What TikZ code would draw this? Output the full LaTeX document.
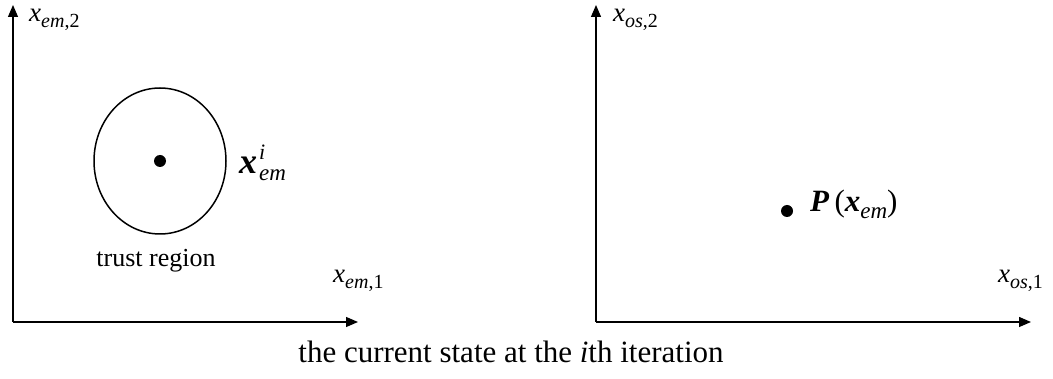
\documentclass[tikz,border=0pt]{standalone}
\usepackage{fontspec}
\setmainfont{Liberation Serif}
\usetikzlibrary{arrows.meta}
\newcommand{\vx}{\textbf{\textit{x}}}
\newcommand{\lsub}[1]{\raisebox{-6pt}{\fontsize{20}{22}\selectfont #1}}
\newcommand{\bsub}[1]{\raisebox{-7pt}{\fontsize{23}{25}\selectfont #1}}
\newcommand{\bsup}[1]{\raisebox{14pt}{\fontsize{22}{24}\selectfont #1}}
\begin{document}
\begin{tikzpicture}[x=1pt,y=-1pt,
  axis/.style={line width=1.3pt,-{Triangle[length=12pt,width=10pt]}},
  lbl/.style={font=\fontsize{27}{30}\selectfont,inner sep=0pt,anchor=base west},
  dotstyle/.style={circle,fill=black,inner sep=0pt,minimum size=12pt}]
\useasboundingbox (0,0) rectangle (1053,379);
% left axes
\coordinate (lo) at (13,322);
\coordinate (ly) at (13,5);
\coordinate (lx) at (358,322);
\draw[axis] (lo) -- (ly);
\draw[axis] (lo) -- (lx);
% right axes
\coordinate (ro) at (596,322);
\coordinate (ry) at (596,5);
\coordinate (rx) at (1031,322);
\draw[axis] (ro) -- (ry);
\draw[axis] (ro) -- (rx);
% trust region
\draw[line width=1.5pt] (160,161) ellipse [x radius=66, y radius=73];
\node[dotstyle] (c) at (160,161) {};
\node[lbl,font=\fontsize{36}{40}\selectfont] (xi) at (239,174) {\vx\hspace{2pt}\rlap{\bsup{\textit{i}}}\bsub{\textit{em}}};
\node[lbl,font=\fontsize{26}{30}\selectfont,anchor=base] (tr) at (156,267) {trust region};
\node[lbl] (ly2) at (29,22) {\textit{x}\lsub{\textit{em},2}};
\node[lbl] (lx1) at (333,283) {\textit{x}\lsub{\textit{em},1}};
\node[lbl] (ry2) at (613,22) {\textit{x}\lsub{\textit{os},2}};
\node[lbl] (rx1) at (998,283) {\textit{x}\lsub{\textit{os},1}};
\node[dotstyle] (p) at (787,211) {};
\node[lbl,font=\fontsize{31}{34}\selectfont] (pl) at (810,212) {\textbf{\textit{P}}\,(\vx\bsub{\textit{em}})};
\node[lbl,font=\fontsize{31}{36}\selectfont,anchor=base] (cap) at (511,363) {the current state at the \textit{i}th iteration};
\end{tikzpicture}
\end{document}
